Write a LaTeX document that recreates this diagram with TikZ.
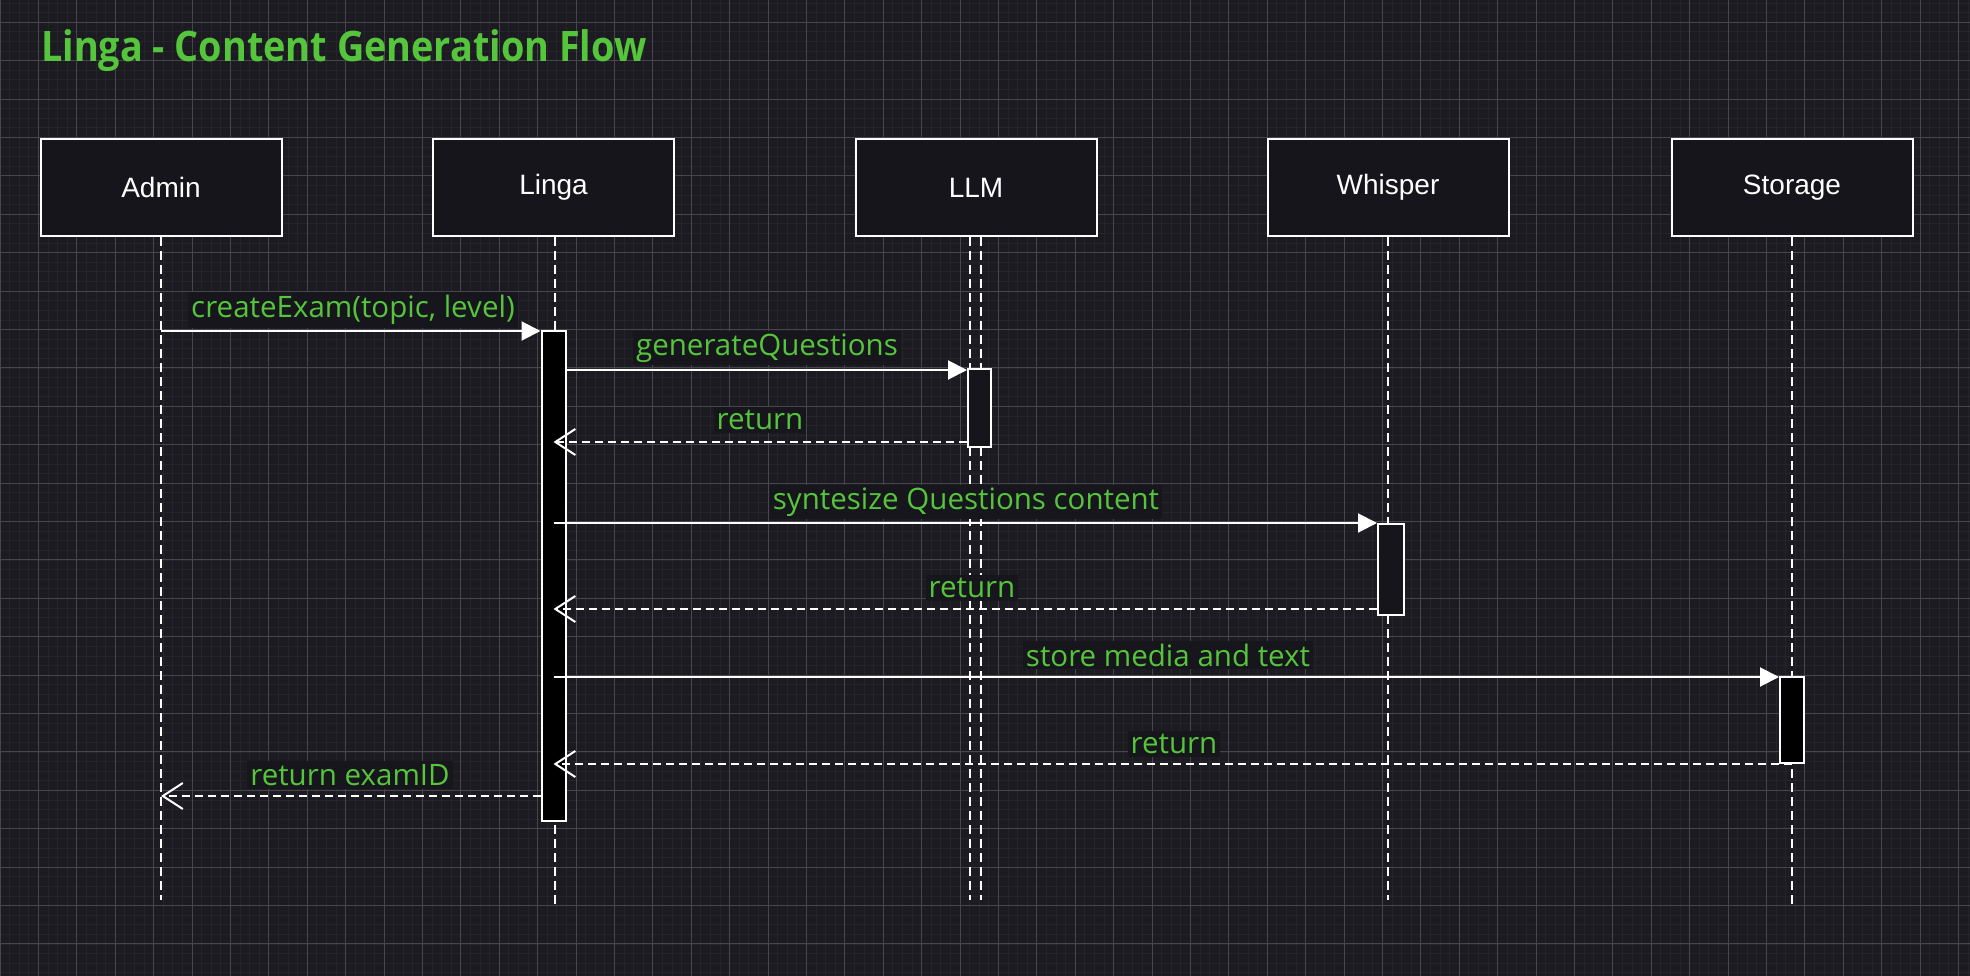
\documentclass[tikz,border=0pt]{standalone}
\usepackage{graphicx}
\usepackage{fontspec}
\setmainfont{Open Sans}
\newfontfamily\boxfont{Liberation Sans}
\usetikzlibrary{arrows.meta}
\definecolor{bg}{HTML}{1C1B22}
\definecolor{gridminor}{HTML}{25242B}
\definecolor{gridmajor}{HTML}{47464C}
\definecolor{boxfill}{HTML}{17151C}
\definecolor{lblgreen}{HTML}{55C53C}
\definecolor{lblbg}{HTML}{17161C}
\begin{document}
\begin{tikzpicture}[x=1pt,y=-1pt,
  participant/.style={draw=white, line width=2pt, fill=boxfill, minimum width=241pt, minimum height=97pt, inner sep=0pt, text=white, font=\boxfont\fontsize{28}{32}\selectfont},
  lifeline/.style={draw=white, line width=2pt, dash pattern=on 9pt off 5pt},
  actdark/.style={draw=white, line width=2pt, fill=boxfill, inner sep=0pt},
  actblack/.style={draw=white, line width=2pt, fill=black, inner sep=0pt},
  callmsg/.style={draw=white, line width=2pt, -{Triangle[length=19pt,width=19pt]}},
  retmsg/.style={draw=white, line width=2.2pt, dash pattern=on 8pt off 5pt, -{Straight Barb[length=20pt,width=26pt,line width=2pt]}},
  msglabel/.style={text=lblgreen, fill=lblbg, inner sep=3pt, font=\fontsize{29.5}{33}\selectfont},
  minorline/.style={draw=gridminor, line width=0.8pt},
  majorline/.style={draw=gridmajor, line width=1pt},
]
\useasboundingbox (0,0) rectangle (1970,976);
\fill[bg] (0,0) rectangle (1970,976);
% grid
\foreach \i in {0,...,205} \draw[minorline] (\i*9.6,0) -- (\i*9.6,976);
\foreach \j in {0,...,101} \draw[minorline] (0,3.1+\j*9.6) -- (1970,3.1+\j*9.6);
\foreach \i in {0,...,51} \draw[majorline] (\i*38.4,0) -- (\i*38.4,976);
\foreach \j in {0,...,24} \draw[majorline] (0,22.3+\j*38.4) -- (1970,22.3+\j*38.4);

% title
\node[anchor=base west, text=lblgreen, font=\bfseries\fontsize{42}{46}\selectfont, inner sep=0pt] (title) at (41,62) {\scalebox{0.9}[1]{Linga - Content Generation Flow}};

% participants
\node[participant] (admin) at (161,187.5) {Admin};
\node[participant] (linga) at (553.5,187.5) {Linga};
\node[participant] (llm) at (976,187.5) {LLM};
\node[participant] (whisper) at (1388,187.5) {Whisper};
\node[participant] (storage) at (1792,187.5) {Storage};

% lifelines
\coordinate (adminEnd) at (161,900);
\coordinate (lingaEnd) at (555,905);
\coordinate (llmEndA) at (970,900);
\coordinate (llmEndB) at (981,900);
\coordinate (whisperEnd) at (1388,900);
\coordinate (storageEnd) at (1792,905);
\draw[lifeline] (admin.south) -- (adminEnd);
\draw[lifeline] (linga.south -| lingaEnd) -- (lingaEnd);
\draw[lifeline] (llm.south -| llmEndA) -- (llmEndA);
\draw[lifeline] (llm.south -| llmEndB) -- (llmEndB);
\draw[lifeline] (whisper.south) -- (whisperEnd);
\draw[lifeline] (storage.south) -- (storageEnd);

% activations
\node[actblack, minimum width=24pt, minimum height=490pt] (actLinga) at (553.5,575.5) {};
\node[actdark, minimum width=23pt, minimum height=78pt] (actLLM) at (979.5,408) {};
\node[actdark, minimum width=26pt, minimum height=91pt] (actWhisper) at (1391,569.5) {};
\node[actblack, minimum width=24pt, minimum height=86pt] (actStorage) at (1792,720) {};

% messages
\coordinate (m1) at (161,331);
\coordinate (m2) at (0,370);
\coordinate (m3) at (0,442);
\coordinate (m4) at (0,523);
\coordinate (m5) at (0,609);
\coordinate (m6) at (0,677);
\coordinate (m7) at (0,764);
\coordinate (m8) at (0,796);
\draw[callmsg] (m1) -- (m1 -| actLinga.west);
\draw[callmsg] (m2 -| actLinga.east) -- (m2 -| actLLM.west);
\draw[retmsg] (m3 -| actLLM.west) -- (m3 -| actLinga);
\draw[callmsg] (m4 -| actLinga) -- (m4 -| actWhisper.west);
\draw[retmsg] (m5 -| actWhisper.west) -- (m5 -| actLinga);
\draw[callmsg] (m6 -| actLinga) -- (m6 -| actStorage.west);
\draw[retmsg] (m7 -| actStorage) -- (m7 -| actLinga);
\draw[retmsg] (m8 -| actLinga.west) -- (m8 -| admin);

% labels
\node[msglabel] (l1) at (353,310) {createExam(topic, level)};
\node[msglabel] (l2) at (767,348) {generateQuestions};
\node[msglabel] (l3) at (760,420) {return};
\node[msglabel] (l4) at (966,502) {syntesize Questions content};
\node[msglabel] (l5) at (972,588) {return};
\node[msglabel] (l6) at (1168,655) {store media and text};
\node[msglabel] (l7) at (1174,744) {return};
\node[msglabel] (l8) at (350,775) {return examID};
\end{tikzpicture}
\end{document}
